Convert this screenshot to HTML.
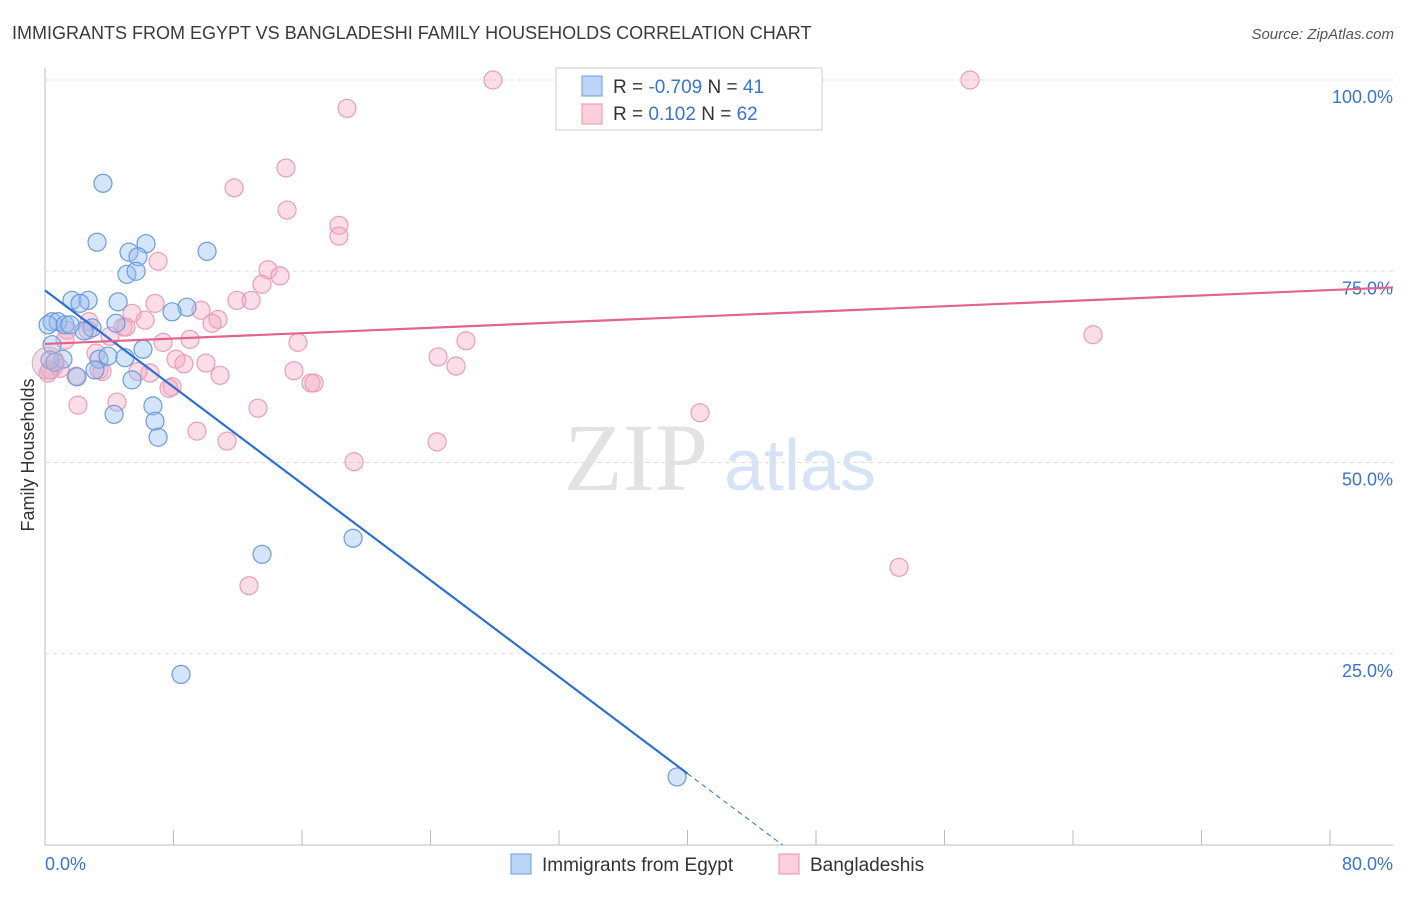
<!DOCTYPE html>
<html><head><meta charset="utf-8"><style>
body{margin:0;background:#fff;font-family:"Liberation Sans",sans-serif}
</style></head><body>
<svg id="c" width="1406" height="892" xmlns="http://www.w3.org/2000/svg">
<text x="12" y="39" font-size="18" fill="#3a3a3a">IMMIGRANTS FROM EGYPT VS BANGLADESHI FAMILY HOUSEHOLDS CORRELATION CHART</text>
<text x="1394" y="39" font-size="15" fill="#555" font-style="italic" text-anchor="end">Source: ZipAtlas.com</text>
<g><text x="636" y="490" font-size="96" fill="#e2e2e2" font-family="Liberation Serif,serif" text-anchor="middle">ZIP</text><text x="800" y="490" font-size="72" fill="#d6e3f5" text-anchor="middle">atlas</text></g>
<g id="grid"></g><g id="pts"></g><g id="lines"></g>
<text transform="translate(34,455) rotate(-90)" font-size="18" fill="#333" text-anchor="middle">Family Households</text>
<g>
<rect x="556" y="68" width="266" height="62" fill="#fff" stroke="#ccc"/>
<rect x="582" y="76" width="20" height="20" fill="#bcd4f6" stroke="#6a9be0"/>
<rect x="582" y="104" width="20" height="20" fill="#fbcfdc" stroke="#e993ad"/>
<text x="613" y="93" font-size="19" fill="#333">R = <tspan fill="#3a73d0">-0.709</tspan>   N = <tspan fill="#3a73d0">41</tspan></text>
<text x="613" y="120" font-size="19" fill="#333">R =   <tspan fill="#3a73d0">0.102</tspan>   N = <tspan fill="#3a73d0">62</tspan></text>
</g>
<g>
<rect x="511" y="854" width="20" height="20" fill="#bcd4f6" stroke="#6a9be0"/>
<text x="542" y="871" font-size="19" fill="#333">Immigrants from Egypt</text>
<rect x="779" y="854" width="20" height="20" fill="#fbcfdc" stroke="#e993ad"/>
<text x="810" y="871" font-size="19" fill="#333">Bangladeshis</text>
</g>
</svg>
<script>
const egyptX=[3.61,3.24,5.23,6.29,5.79,5.10,5.67,10.09,1.68,2.68,2.18,4.55,8.84,7.91,0.44,0.81,1.25,2.93,2.43,4.42,6.10,0.44,1.12,3.36,3.92,4.98,3.11,1.99,5.42,6.72,6.85,7.04,4.30,0.31,13.51,19.18,8.47,39.35,0.19,1.56,0.62];
const egyptY=[86.5,78.8,77.5,78.6,76.9,74.6,75.0,77.6,71.2,71.2,70.8,71.0,70.3,69.7,68.4,68.4,68.0,67.6,67.2,68.2,64.8,65.4,63.5,63.5,63.9,63.7,62.1,61.2,60.8,57.4,55.4,53.3,56.3,63.4,38.0,40.1,22.3,8.9,68.0,68.0,63.1];
const bangX=[27.89,57.59,18.80,15.00,11.77,15.07,18.30,18.30,7.04,13.88,14.63,13.51,11.95,12.83,6.85,9.71,5.42,6.23,10.77,10.40,4.86,5.04,2.74,1.37,4.05,9.03,7.35,15.75,26.21,65.25,3.18,8.16,10.02,24.47,25.59,8.65,15.50,3.55,6.54,10.90,1.93,16.56,16.75,7.91,7.72,4.48,2.05,13.26,9.46,11.33,24.41,19.24,40.78,53.17,12.70,0.93,0.31,2.68,5.79,1.25,0.19,3.36];
const bangY=[100,100,96.3,88.5,85.9,83.0,81.0,79.6,76.3,75.2,74.4,73.3,71.2,71.2,70.8,69.9,69.5,68.6,68.7,68.2,67.7,67.7,68.4,67.3,66.5,66.1,65.7,65.7,65.9,66.7,64.3,63.5,63.0,63.8,62.6,62.9,62.0,61.9,61.7,61.4,61.3,60.4,60.4,59.9,59.7,57.9,57.5,57.1,54.1,52.8,52.7,50.1,56.5,36.3,33.9,62.3,62.1,67.3,61.9,66.0,61.7,62.1];
const yTicks=[25,50,75,100];
const xTickLabels=["0.0%","80.0%"];
const egyptTrend=[72.5,-1.579];
const bangTrend=[65.5,0.088];
const NS="http://www.w3.org/2000/svg";
const X=v=>45+v/80*1285, Y=v=>845-v/100*765;
function mk(t,a,p){const e=document.createElementNS(NS,t);for(const k in a)e.setAttribute(k,a[k]);p.appendChild(e);return e;}
const grid=document.getElementById('grid');
const ax=mk('line',{x1:45,y1:68,x2:45,y2:845,stroke:'#bbb'},grid);


const bx=mk('line',{x1:45,y1:845,x2:1393,y2:845,stroke:'#bbb'},grid);


for(let i=0;i<=10;i++){const t=mk('line',{x1:X(i*8),y1:830,x2:X(i*8),y2:845,stroke:'#bbb'},grid);

}
yTicks.forEach(v=>{const g=mk('line',{x1:45,y1:Y(v),x2:1393,y2:Y(v),stroke:'#ddd','stroke-dasharray':'4 4'},grid);


const t=mk('text',{x:1393,y:Y(v)+23,'font-size':18,fill:'#3a73d0','text-anchor':'end'},grid);t.textContent=v.toFixed(1)+'%';

});
const l0=mk('text',{x:45,y:870,'font-size':18,fill:'#3a73d0'},grid);l0.textContent=xTickLabels[0];


const l1=mk('text',{x:1393,y:870,'font-size':18,fill:'#3a73d0','text-anchor':'end'},grid);l1.textContent=xTickLabels[1];


const pts=document.getElementById('pts');
bangX.forEach((x,i)=>{const c=mk('circle',{cx:X(x),cy:Y(bangY[i]),r:9,fill:'rgba(246,170,194,0.4)',stroke:'#eb9db6','stroke-width':1.2},pts);

});
egyptX.forEach((x,i)=>{const c=mk('circle',{cx:X(x),cy:Y(egyptY[i]),r:9,fill:'rgba(150,190,240,0.4)',stroke:'#6a9be0','stroke-width':1.2},pts);

});
const big=mk('circle',{cx:X(0.2),cy:Y(63),r:16,fill:'rgba(220,170,200,0.4)',stroke:'#d9a5c0'},pts);


const lines=document.getElementById('lines');
const ez=-egyptTrend[0]/egyptTrend[1];
const e1=mk('line',{x1:X(0),y1:Y(egyptTrend[0]),x2:X(40),y2:Y(egyptTrend[0]+egyptTrend[1]*40),stroke:'#2c6fd6','stroke-width':2.2},lines);


const e2=mk('line',{x1:X(40),y1:Y(egyptTrend[0]+egyptTrend[1]*40),x2:X(ez),y2:Y(0),stroke:'#2c6fd6','stroke-width':1,'stroke-dasharray':'5 4'},lines);


const b1=mk('line',{x1:X(0),y1:Y(bangTrend[0]),x2:1393,y2:Y(bangTrend[0]+bangTrend[1]*((1393-45)/1285*80)),stroke:'#e0648e','stroke-width':2.2},lines);


</script>
</body></html>
